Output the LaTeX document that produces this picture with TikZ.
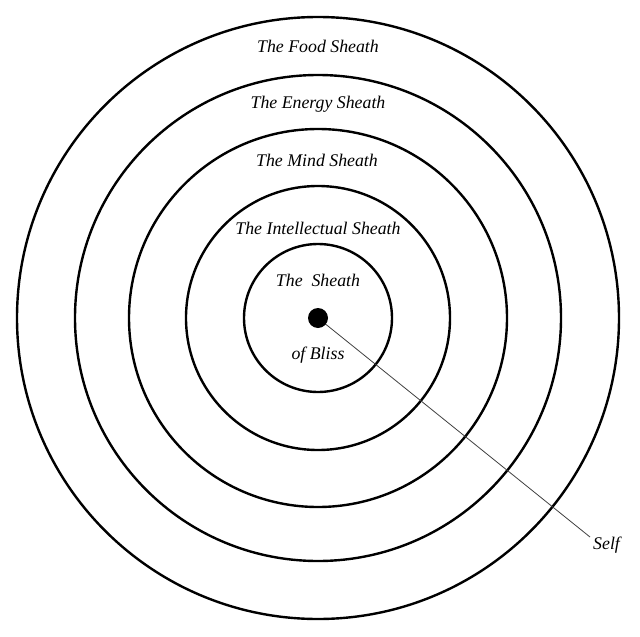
\documentclass[tikz,border=0pt]{standalone}
\usepackage{fontspec}
\setmainfont{Liberation Serif}
\begin{document}
\begin{tikzpicture}[x=1pt,y=-1pt,
  ring/.style={draw=black,line width=2.4pt},
  lbl/.style={font=\itshape\fontsize{17.8}{20}\selectfont,inner sep=0pt}]
\useasboundingbox (0,0) rectangle (640,637);
\coordinate (c) at (318,318);
\draw[ring] (c) circle[radius=301];
\draw[ring] (c) circle[radius=243];
\draw[ring] (c) circle[radius=189];
\draw[ring] (c) circle[radius=132];
\draw[ring] (c) circle[radius=74];
\coordinate (selfend) at (590,537);
\draw[line width=0.8pt,black!75] (c) -- (selfend);
\fill[black] (c) circle[radius=10];
\node[lbl] (food) at (318,46) {The Food Sheath};
\node[lbl] (energy) at (318,104) {The Energy Sheath};
\node[lbl] (mind) at (317,160) {The Mind Sheath};
\node[lbl] (intel) at (318,228) {The Intellectual Sheath};
\node[lbl] (sheath) at (318,280) {The\ \ Sheath};
\node[lbl] (bliss) at (318,355) {of Bliss};
\node[lbl,anchor=west] (self) at (593,545) {Self};
\end{tikzpicture}
\end{document}
